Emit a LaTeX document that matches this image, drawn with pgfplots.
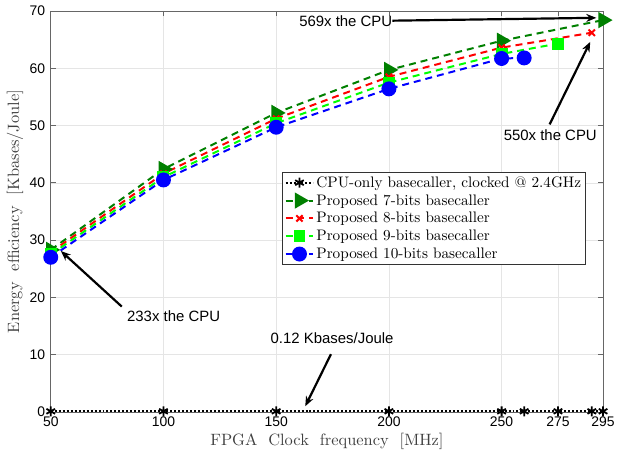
\documentclass[border=0pt]{standalone}
\usepackage{fontspec}
\setmainfont{lmroman10-regular.otf}[BoldFont=lmroman10-bold.otf, ItalicFont=lmroman10-italic.otf]
\usepackage{pgfplots}
\pgfplotsset{compat=1.18}
\usetikzlibrary{arrows.meta}
\newfontfamily\arial{Liberation Sans}
\definecolor{dgreen}{rgb}{0,0.5,0}
\definecolor{lgreen}{rgb}{0,1,0}
\begin{document}
\begin{tikzpicture}
\begin{axis}[
  scale only axis,
  width=555pt, height=403pt,
  xmin=50, xmax=295, ymin=0, ymax=70,
  xtick={50,100,150,200,250,275,295},
  ytick={0,10,20,30,40,50,60,70},
  grid=major,
  major grid style={draw=black!10, line width=0.6pt},
  axis line style={draw=black!60, line width=0.8pt},
  tick style={draw=black!60, line width=0.8pt},
  tick align=inside,
  major tick length=5pt,
  tick label style={font=\arial\fontsize{14}{16}\selectfont, black},
  /pgf/number format/assume math mode=true,
  xticklabel style={yshift=-1pt},
  yticklabel style={xshift=-2pt},
  xlabel={FPGA\ \ Clock\ \ frequency\ \ [MHz]},
  ylabel={Energy\ \ efficiency\ \ [Kbases/Joule]},
  every axis x label/.style={at={(rel axis cs:0.5,0)}, yshift=-30pt, anchor=center, font=\fontsize{16.5}{18}\selectfont, text=black!75},
  every axis y label/.style={at={(rel axis cs:0,0.5)}, xshift=-36pt, rotate=90, anchor=center, font=\fontsize{16.5}{18}\selectfont, text=black!75},
  clip=false,
  legend style={at={(rel axis cs:0.419,0.598)}, anchor=north west,
    font=\fontsize{15.3}{17}\selectfont, draw=black!80, line width=0.8pt,
    row sep=1.8pt, inner sep=2pt, cells={anchor=west}},
  legend cell align=left,
  legend image code/.code={\draw[mark repeat=2, mark phase=2] plot coordinates {(0pt,0pt) (14pt,0pt) (28pt,0pt)};},
  every axis plot/.append style={line width=2pt},
]
\path (rel axis cs:0,0) ++(-51pt,-46pt) (rel axis cs:1,1) ++(12pt,11pt);
\addplot[black, dotted, line width=1.8pt, mark=asterisk, mark size=5pt, mark options={solid, line width=1.8pt}]
  coordinates {(50,0.12) (100,0.12) (150,0.12) (200,0.12) (250,0.12) (260,0.12) (275,0.12) (290,0.12) (295,0.12)};
\addlegendentry{CPU-only basecaller, clocked @ 2.4GHz}
\addplot[dgreen, dash pattern=on 7pt off 5pt, mark=triangle*, mark size=7.5pt, mark options={solid, rotate=-90, fill=dgreen}]
  coordinates {(50,28.3) (100,42.4) (150,52.2) (200,59.7) (250,64.8) (295,68.4)};
\addlegendentry{Proposed 7-bits basecaller}
\addplot[red, dash pattern=on 7pt off 5pt, mark=x, mark size=4.5pt, mark options={solid, line width=2pt}]
  coordinates {(50,27.9) (100,41.6) (150,51.2) (200,58.5) (250,63.6) (290,66.2)};
\addlegendentry{Proposed 8-bits basecaller}
\addplot[lgreen, dash pattern=on 7pt off 5pt, mark=square*, mark size=5pt, mark options={solid, fill=lgreen}]
  coordinates {(50,27.5) (100,41.0) (150,50.4) (200,57.5) (250,62.5) (275,64.3)};
\addlegendentry{Proposed 9-bits basecaller}
\addplot[blue, dash pattern=on 7pt off 5pt, mark=*, mark size=6.5pt, mark options={solid, fill=blue}]
  coordinates {(50,27.0) (100,40.5) (150,49.7) (200,56.4) (250,61.7) (260,61.8)};
\addlegendentry{Proposed 10-bits basecaller}
% annotations
\draw[-{Stealth[length=10pt,width=8pt]}, line width=2.2pt] (axis cs:201.5,68.3) -- (axis cs:292,68.8);
\node[font=\arial\fontsize{15}{17}\selectfont, anchor=east, inner sep=1pt] at (axis cs:202,68.3) {569x the CPU};
\draw[-{Stealth[length=10pt,width=8pt]}, line width=2.2pt] (axis cs:271.3,50.2) -- (axis cs:289.3,64.6);
\node[font=\arial\fontsize{15}{17}\selectfont] at (axis cs:271.6,48.3) {550x the CPU};
\draw[-{Stealth[length=10pt,width=8pt]}, line width=2.2pt] (axis cs:81.5,18.4) -- (axis cs:54.5,28.1);
\node[font=\arial\fontsize{15}{17}\selectfont] at (axis cs:104.5,16.7) {233x the CPU};
\draw[-{Stealth[length=10pt,width=8pt]}, line width=2.2pt] (axis cs:174.3,10.1) -- (axis cs:162.9,1.0);
\node[font=\arial\fontsize{15}{17}\selectfont] at (axis cs:174.8,12.9) {0.12 Kbases/Joule};
\end{axis}
\end{tikzpicture}
\end{document}
